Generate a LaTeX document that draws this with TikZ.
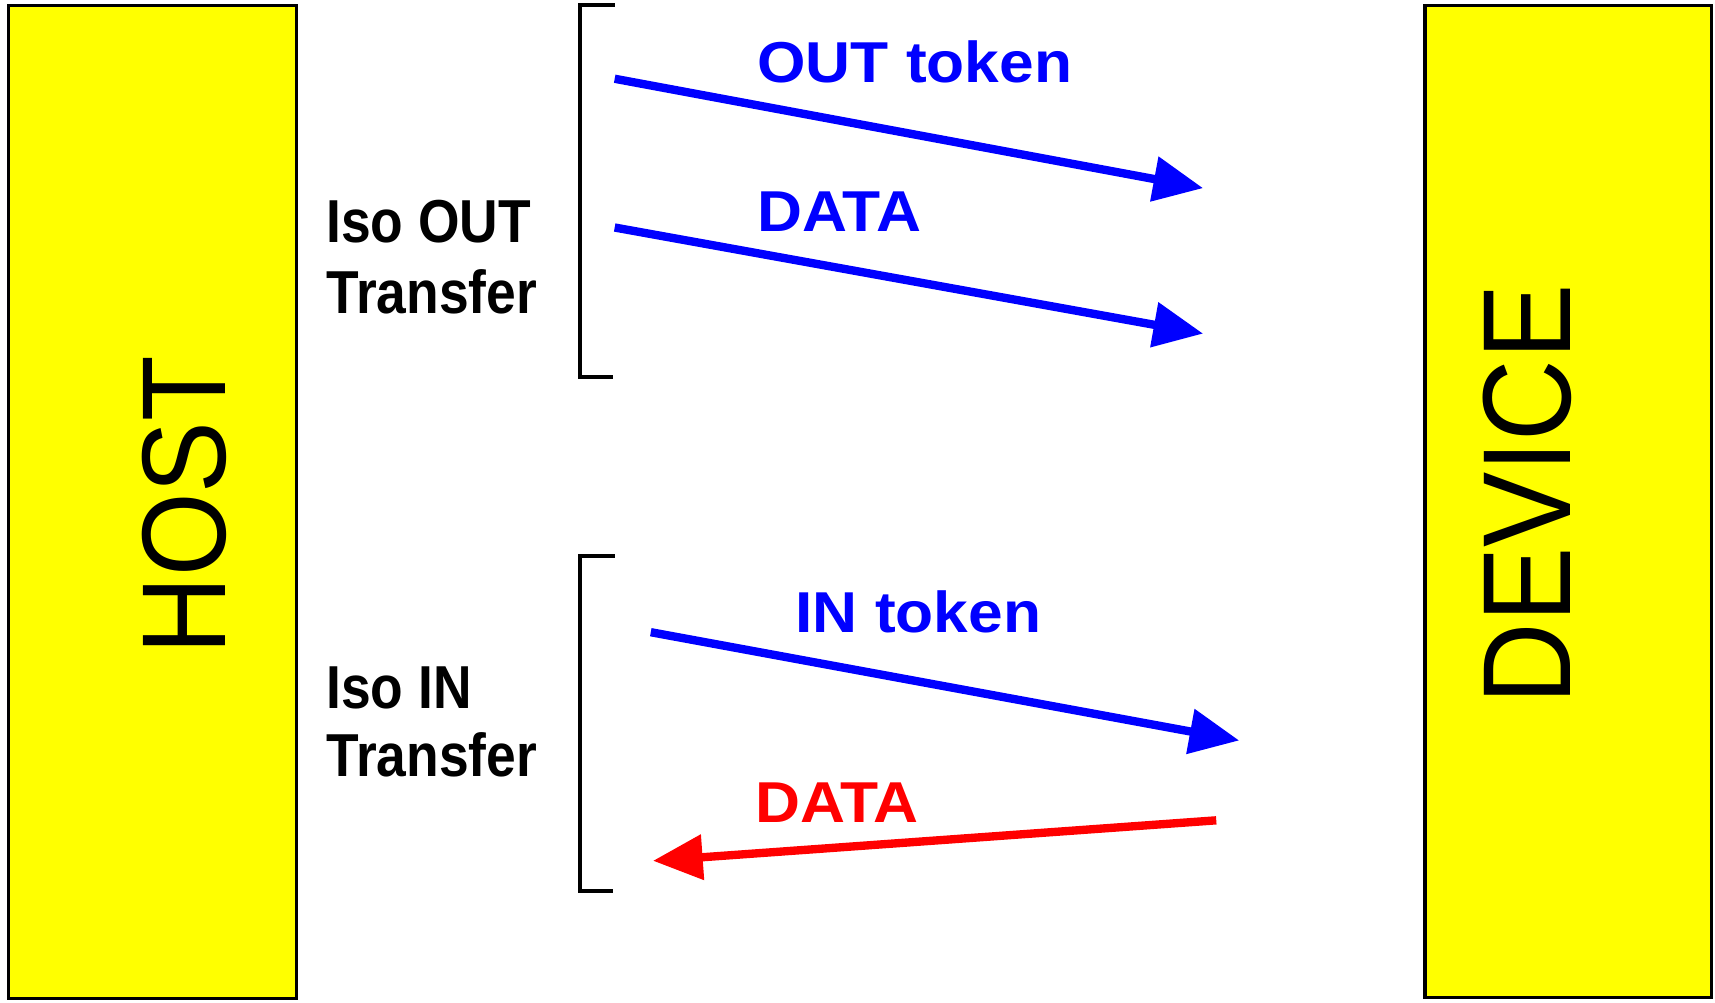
\documentclass[tikz,border=0pt]{standalone}
\usepackage{fontspec}
\setmainfont{Liberation Sans}
\newfontfamily\endfont[FakeStretch=0.9]{Liberation Sans}
\newfontfamily\sidefont[FakeStretch=0.88]{Liberation Sans Bold}
\newfontfamily\msgfont[FakeStretch=1.08]{Liberation Sans Bold}
\usetikzlibrary{arrows.meta}
\definecolor{boxyellow}{RGB}{255,255,0}
\definecolor{msgblue}{RGB}{0,0,255}
\definecolor{msgred}{RGB}{255,0,0}
\tikzset{
  endpoint/.style={draw=black, line width=1.7pt, fill=boxyellow, inner sep=0pt},
  endname/.style={rotate=90, inner sep=0pt, font=\endfont\fontsize{60pt}{60pt}\selectfont},
  sidelabel/.style={anchor=base west, inner sep=0pt, font=\sidefont\fontsize{30.5pt}{30.5pt}\selectfont},
  msglabel/.style={anchor=base west, inner sep=0pt, font=\msgfont\fontsize{29pt}{29pt}\selectfont},
  bracket/.style={draw=black, line width=2pt},
  msg/.style={line width=4.2pt, -{Triangle[length=25pt,width=22pt]}},
}
\begin{document}
\begin{tikzpicture}[x=0.55pt, y=-0.55pt]
  \useasboundingbox (0,0) rectangle (1568,917);

  % host and device columns
  \node[endpoint, minimum width=144.6pt, minimum height=499.4pt] (host) at (139.5,459) {};
  \node[endpoint, minimum width=144.1pt, minimum height=498.8pt] (device) at (1434,458.5) {};
  \node[endname] (hostname) at (168.5,462) {HOST};
  \node[endname, font=\endfont\fontsize{63pt}{63pt}\selectfont] (devicename) at (1396,452) {DEVICE};

  % isochronous OUT transfer
  \draw[bracket] (562,5) -- (530,5) -- (530,345) -- (560,345);
  \node[sidelabel] (outA) at (298,222) {Iso OUT};
  \node[sidelabel] (outB) at (298,287) {Transfer};

  \coordinate (otS) at (562,72);   \coordinate (otE) at (1100,172);
  \coordinate (odS) at (562,208);  \coordinate (odE) at (1100,305);
  \draw[msg, msgblue] (otS) -- (otE);
  \draw[msg, msgblue] (odS) -- (odE);
  \node[msglabel, text=msgblue] (outtok) at (692,75) {OUT token};
  \node[msglabel, text=msgblue] (outdata) at (692,212) {DATA};

  % isochronous IN transfer
  \draw[bracket] (562,508) -- (530,508) -- (530,815) -- (560,815);
  \node[sidelabel] (inA) at (298,648) {Iso IN};
  \node[sidelabel] (inB) at (298,710) {Transfer};

  \coordinate (itS) at (595,578);  \coordinate (itE) at (1133,677);
  \coordinate (idS) at (1112,750); \coordinate (idE) at (597,787);
  \draw[msg, msgblue] (itS) -- (itE);
  \draw[msg, msgred] (idS) -- (idE);
  \node[msglabel, text=msgblue] (intok) at (727,578) {IN token};
  \node[msglabel, text=msgred] (indata) at (690,752) {DATA};
\end{tikzpicture}
\end{document}
